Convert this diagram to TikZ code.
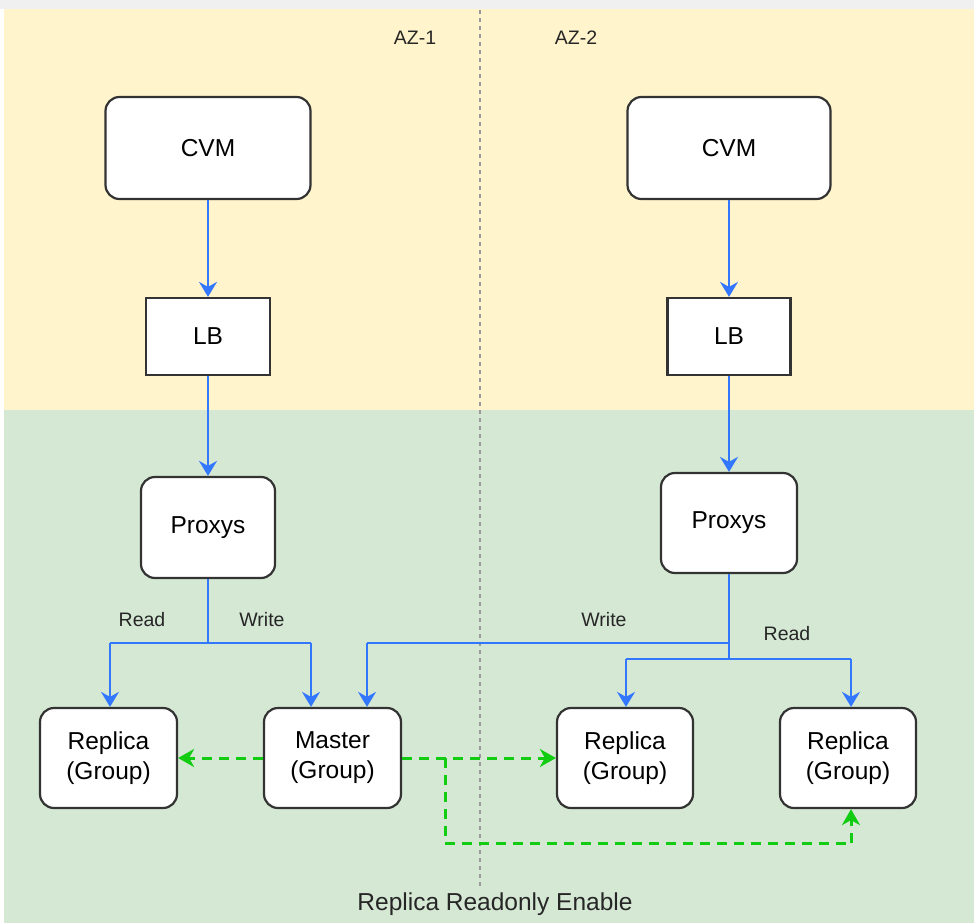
\documentclass[tikz,border=0pt]{standalone}
\usepackage{fontspec}
\setmainfont{Liberation Sans}
\usetikzlibrary{arrows.meta}
\definecolor{bgyellow}{HTML}{FFF4CC}
\definecolor{bggreen}{HTML}{D5E8D4}
\definecolor{flowblue}{HTML}{3377FF}
\definecolor{repgreen}{HTML}{11CC11}
\definecolor{boxline}{HTML}{333333}
\begin{document}
\begin{tikzpicture}[x=1pt,y=-1pt,
  rbox/.style={draw=boxline,line width=2.2pt,fill=white,rounded corners=14pt,inner sep=0pt,
    font=\fontsize{24.5}{30}\selectfont,align=center},
  sbox/.style={draw=boxline,line width=2.2pt,fill=white,inner sep=0pt,font=\fontsize{24.5}{30}\selectfont},
  flow/.style={draw=flowblue,line width=2.4pt,-{Stealth[length=15pt,width=18pt,inset=5pt]}},
  flowline/.style={draw=flowblue,line width=2.4pt},
  repl/.style={draw=repgreen,line width=3pt,dash pattern=on 10pt off 7pt,-{Stealth[length=16pt,width=18pt,inset=5pt]}},
  replline/.style={draw=repgreen,line width=3pt,dash pattern=on 10pt off 7pt},
  lbl/.style={font=\fontsize{19.5}{22}\selectfont,text=black!85},
]
\useasboundingbox (0,0) rectangle (974,923);
\fill[white] (0,0) rectangle (974,923);
\fill[black!6] (0,0) rectangle (974,9);
\fill[bgyellow] (4,9) rectangle (974,410);
\fill[bggreen] (4,410) rectangle (974,923);
\draw[black!40,line width=1.2pt,dash pattern=on 4pt off 4pt] (480,10) -- (480,890);

\node[lbl] (az1) at (415,38) {AZ-1};
\node[lbl] (az2) at (576,38) {AZ-2};

% left column
\node[rbox,minimum width=205pt,minimum height=102pt] (cvm1) at (208,148) {CVM};
\node[sbox,minimum width=124pt,minimum height=77pt] (lb1) at (208,336.5) {LB};
\node[rbox,minimum width=134pt,minimum height=101pt] (px1) at (208,527.5) {Proxys};
% right column
\node[rbox,minimum width=203pt,minimum height=102pt] (cvm2) at (729,148) {CVM};
\node[sbox,minimum width=123pt,minimum height=77pt] (lb2) at (729,336.5) {LB};
\node[rbox,minimum width=136pt,minimum height=100pt] (px2) at (729,523) {Proxys};
% bottom row
\node[rbox,minimum width=137pt,minimum height=100pt] (r1) at (108.5,758) {Replica\\(Group)};
\node[rbox,minimum width=137pt,minimum height=100pt] (m) at (332.5,758) {Master\\(Group)};
\node[rbox,minimum width=136pt,minimum height=100pt] (r2) at (625,758) {Replica\\(Group)};
\node[rbox,minimum width=136pt,minimum height=100pt] (r3) at (848,758) {Replica\\(Group)};

% vertical flows
\draw[flow] (cvm1.south) -- (lb1.north);
\draw[flow] (lb1.south) -- (px1.north);
\draw[flow] (cvm2.south) -- (lb2.north);
\draw[flow] (lb2.south) -- (px2.north);

% left proxys branches
\coordinate (j1) at (208,643);
\coordinate (j1l) at (110,643);
\coordinate (j1r) at (311,643);
\draw[flowline] (px1.south) -- (j1);
\draw[flowline] (j1l) -- (j1r);
\draw[flow] (j1l) -- (j1l |- r1.north);
\draw[flow] (j1r) -- (j1r |- m.north);

% right proxys branches
\coordinate (j2) at (729,643);
\coordinate (j2w) at (367,643);
\coordinate (j3) at (729,659);
\coordinate (j3l) at (626,659);
\coordinate (j3r) at (851,659);
\draw[flowline] (px2.south) -- (j3);
\draw[flowline] (j2) -- (j2w);
\draw[flow] (j2w) -- (j2w |- m.north);
\draw[flowline] (j3l) -- (j3r);
\draw[flow] (j3l) -- (j3l |- r2.north);
\draw[flow] (j3r) -- (j3r |- r3.north);

\node[lbl] (rd1) at (142,620) {Read};
\node[lbl] (wr1) at (262,620) {Write};
\node[lbl] (wr2) at (604,620) {Write};
\node[lbl] (rd2) at (787,634) {Read};

% replication
\draw[repl] (m.west) -- (r1.east);
\draw[repl] (m.east) -- (r2.west);
\coordinate (g1) at (445,758);
\coordinate (g2) at (445,843);
\coordinate (g3) at (851,843);
\draw[replline] (g1) -- (g2) -- (g3);
\draw[repl] (g3) -- (g3 |- r3.south);

\node[font=\fontsize{24.5}{28}\selectfont,text=black!85] (cap) at (495,904) {Replica Readonly Enable};
\end{tikzpicture}
\end{document}
